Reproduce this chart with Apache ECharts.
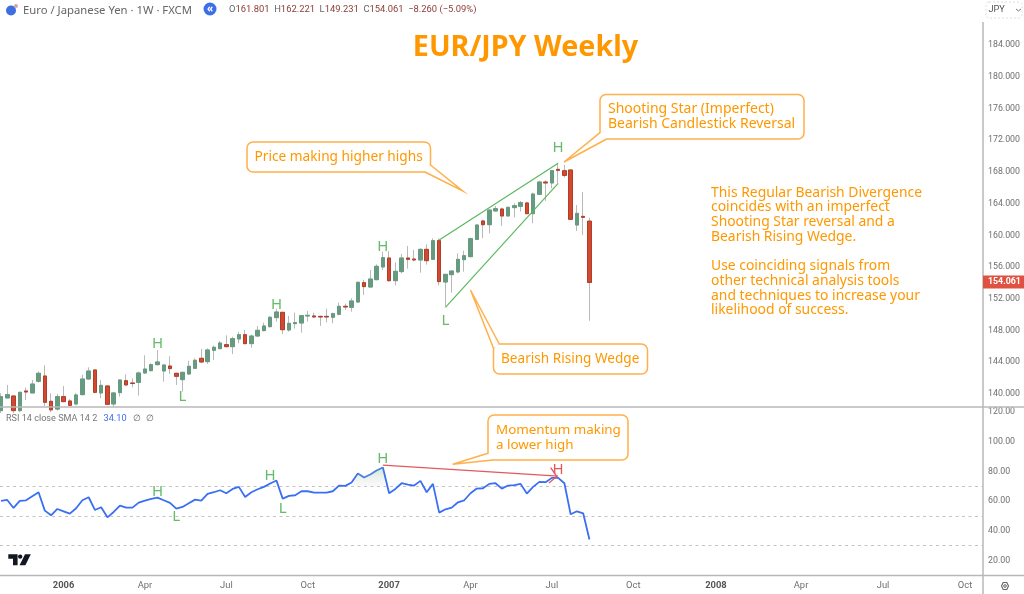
<!DOCTYPE html>
<html><head><meta charset="utf-8">
<style>html,body{margin:0;padding:0;background:#fff}#c{width:1024px;height:594px}</style>
<script src="https://cdn.jsdelivr.net/npm/echarts@6/dist/echarts.min.js"></script>
</head><body><div id="c"></div>
<script>
const opens=[137.9,139.5,139.75,137.9,140.38,140.13,141.6,142.27,139.08,138.1,139.67,139.12,138.74,139.92,141.89,143.03,140.13,141.01,138.74,140.17,141.68,141.39,141.47,142.65,142.94,143.7,142.9,143.53,142.61,141.81,142.52,143.24,144.5,144.08,145.51,145.72,146.22,145.97,146.94,147.48,146.35,147.31,147.99,148.49,149.63,150.3,148.07,148.87,148.95,149.84,149.84,149.79,149.79,149.67,150.05,151.06,150.93,151.6,154.04,153.49,154.42,156.02,157.15,154.29,155.43,157.15,157.02,156.9,158.24,156.98,159.34,154.12,155.05,155.39,156.94,157.32,159.5,161.82,161.35,163.08,163.33,162.45,163.5,163.67,164.09,162.74,165.18,166.73,166.61,168.33,168.16,168.25,161.31,162.4,161.8];
const closes=[139.67,139.92,137.9,140.21,140.25,141.26,142.61,138.95,138.0,139.67,139.04,138.57,139.88,141.89,142.9,140.21,141.09,138.7,140.13,141.77,141.14,141.32,142.65,143.15,143.7,144.04,143.66,143.2,142.23,142.73,143.49,144.25,144.04,145.55,145.89,146.43,145.97,146.98,147.48,146.35,147.31,148.03,148.58,149.67,150.34,148.11,148.91,149.0,149.88,149.92,149.71,149.71,149.71,150.13,151.06,150.97,151.73,154.08,153.54,154.5,156.1,157.19,154.29,155.47,157.15,156.98,156.9,158.24,156.81,159.34,154.17,155.09,155.51,156.98,157.44,159.59,161.31,161.35,163.2,163.37,162.45,163.54,163.75,164.13,162.74,165.22,166.73,166.61,168.16,168.2,167.57,162.03,162.78,162.28,154.06];
const lows=[137.6,139.46,137.6,137.7,139.24,140.09,141.43,138.49,137.7,137.9,138.95,138.49,138.57,139.83,141.77,140.09,139.46,138.61,138.4,139.67,141.05,140.84,139.79,142.57,142.86,143.57,141.56,142.52,141.14,140.3,142.44,143.15,143.87,143.78,144.29,145.63,145.89,145.04,146.39,146.26,145.84,147.23,147.9,148.41,149.12,147.57,147.86,148.24,147.73,149.12,149.63,148.58,149.04,148.91,149.92,150.59,150.38,151.52,152.49,153.41,154.33,155.64,154.17,153.7,155.22,155.81,156.73,155.3,156.31,156.9,153.7,151.01,152.78,155.22,155.43,157.23,159.42,159.67,160.26,163.03,161.19,162.4,162.28,163.0,162.66,161.52,165.09,164.34,165.93,166.57,167.28,161.94,160.56,160.05,149.23];
const highs=[140.09,141.14,139.85,140.3,140.8,141.77,142.86,143.62,140.09,140.0,141.01,139.33,140.09,142.44,143.36,143.11,141.77,141.14,140.21,141.85,142.48,141.98,142.82,144.88,143.87,145.55,143.7,144.75,142.69,142.82,144.2,144.5,145.68,145.76,146.1,146.68,147.4,147.23,147.82,148.07,147.48,148.58,149.0,149.84,150.76,150.34,149.84,150.26,149.96,150.47,150.26,149.88,150.76,150.26,151.52,151.39,152.07,154.17,154.38,155.64,156.35,157.95,158.03,156.6,157.65,158.66,158.16,158.37,158.87,159.63,159.63,155.13,155.55,157.74,158.08,159.71,161.4,161.94,163.29,163.71,163.5,163.62,164.04,164.34,164.25,165.39,166.9,166.94,168.25,169.17,168.88,168.33,163.83,165.47,162.22];
const rsiValues=[60.09,60.77,55.36,60.09,60.54,63.24,65.95,53.56,50.4,54.68,53.11,51.53,55.13,60.54,62.57,54.01,55.81,49.05,52.66,56.94,55.58,55.58,58.96,60.31,61.44,62.34,60.54,58.74,54.91,56.04,58.51,60.99,60.31,64.82,65.95,67.3,65.27,68.2,69.55,62.79,65.95,67.97,69.55,71.8,73.83,61.67,63.47,63.92,66.62,66.62,65.72,65.72,65.72,66.62,70.45,70.22,72.48,78.56,75.86,77.88,80.59,82.61,65.27,68.2,72.03,71.13,70.45,73.6,65.95,71.58,52.2,54.46,55.58,59.19,60.54,65.27,68.42,68.65,71.58,72.03,68.42,70.45,70.68,71.58,65.04,69.55,72.93,72.7,75.63,75.63,72.03,51.08,53.11,51.76,34.1];
const priceTicks=[140,144,148,152,156,160,164,168,172,176,180,184];
const rsiTicks=[20,40,60,80,100,120];
const rsiGuides=[70,50,30];
// x axis runs in weeks counted from the first candle (week of 23 Oct 2005)
const timeTickWeeks=[10,23,36,49,62,75,88,101,114.2,127.8,140.9,154];
const timeTickLabels=['2006','Apr','Jul','Oct','2007','Apr','Jul','Oct','2008','Apr','Jul','Oct'];
const priceNotes=[[25,146.39,'H'],[29,139.66,'L'],[44,151.22,'H'],[61,158.57,'H'],[71,149.21,'L'],[89,171.06,'H']];
const rsiNotes=[[25,66.62,'H'],[28,49.26,'L'],[43,76.96,'H'],[45,54.93,'L'],[61,88.72,'H']];
const rsiRedNote=[89,80.81,'H'];
const upperWedge=[[70,159.42],[89,169.09]];
const lowerWedge=[[71,150.93],[89,166.57]];
const rsiDivergence=[[61,84.2],[89,76.8]];

const xMin=-1/6.26, xMax=982/6.26;
const candleData=opens.map((o,i)=>[i,o,closes[i],lows[i],highs[i]]);
const bodyData=opens.map((o,i)=>[i,o,closes[i],Math.min(o,closes[i]),Math.max(o,closes[i])]);
const rsiData=rsiValues.map((v,i)=>[i,v]);
const ORANGE='#ff9800', STROKE='#ffb04a', GREEN='#66bb6a', RED='#e5575a', AXIS='#b8b8b8', FONT='"Noto Sans",sans-serif';
const note=(n,color)=>({coord:[n[0],n[1]],value:n[2],symbol:'circle',symbolSize:1,itemStyle:{color:'transparent'},
  label:{show:true,position:'inside',formatter:n[2],color:color,fontFamily:FONT,fontSize:15}});
const seg=(s,color,w)=>[{coord:[s[0][0],s[0][1]],lineStyle:{color:color,width:w,type:'solid'}},{coord:[s[1][0],s[1][1]]}];
const txt=(x,y,text,o={})=>({type:'text',z:60,style:Object.assign({x:x,y:y+0.8,text:text,fill:ORANGE,font:`13.9px ${FONT}`,textVerticalAlign:'middle'},o)});
const sized=s=>({font:`${s}px ${FONT}`});
const line=(x1,y1,x2,y2,c=AXIS,w=1.5)=>({type:'line',z:50,shape:{x1,y1,x2,y2},style:{stroke:c,lineWidth:w}});
function callout(x,y,w,h,tail){
  return [
    {type:'rect',z:40,shape:{x,y,width:w,height:h,r:6},style:{fill:'#fff',stroke:STROKE,lineWidth:1.5}},
    {type:'polygon',z:41,shape:{points:tail},style:{fill:'#fff',stroke:null}},
    {type:'polyline',z:42,shape:{points:tail},style:{fill:null,stroke:STROKE,lineWidth:1.5}}
  ];
}
const graphics=[
  line(0,407,1024,407),line(0,575.5,1024,575.5),line(983,22,983,594),
  ...callout(247,142,183.5,30,[[430.5,165],[462.7,191],[425,172]]),
  txt(254.5,156.5,'Price making higher highs',sized(13.7)),
  ...callout(600,94.5,204,44.5,[[600,132.7],[564,162],[606.7,139]]),
  txt(608,108.5,'Shooting Star (Imperfect)',sized(14)),txt(608,123.5,'Bearish Candlestick Reversal',sized(14)),
  ...callout(493.5,344,154,30,[[493.5,348.3],[470.5,290],[499.3,344]]),
  txt(501,358.5,'Bearish Rising Wedge',sized(13.6)),
  ...callout(488,415,140,45,[[488,453.3],[452.7,464.3],[493,460]]),
  txt(496,429.5,'Momentum making',sized(13.4)),txt(496,444.5,'a lower high',sized(13.4)),
  txt(525.5,47.5,'EUR/JPY Weekly',{font:`bold 28.7px ${FONT}`,textAlign:'center'}),
  ...['This Regular Bearish Divergence','coincides with an imperfect','Shooting Star reversal and a','Bearish Rising Wedge.'].map((t,i)=>txt(711,192+i*14.7,t)),
  ...['Use coinciding signals from','other technical analysis tools','and techniques to increase your','likelihood of success.'].map((t,i)=>txt(711,265+i*14.9,t)),
  {type:'polyline',z:55,shape:{points:[[550.7,467.7],[556.7,476.5],[549,483]]},style:{fill:null,stroke:RED,lineWidth:1.3}},
  {type:'polygon',z:5,shape:{points:[[352,486],[358,473],[364,477],[377,470],[383,467],[385,486]]},style:{fill:{type:'linear',x:0,y:0,x2:0,y2:1,colorStops:[{offset:0,color:'rgba(120,190,130,.35)'},{offset:1,color:'rgba(200,200,200,.1)'}]}}},
  {type:'circle',z:60,shape:{cx:11,cy:10.5,r:5},style:{fill:'#3d6fe0'}},
  {type:'circle',z:60,shape:{cx:16,cy:6,r:2},style:{fill:'#e0a0a0'}},
  txt(23,10,'Euro / Japanese Yen · 1W · FXCM',{fill:'#666',font:`11.3px ${FONT}`}),
  {type:'circle',z:60,shape:{cx:210,cy:9,r:6.5},style:{fill:'#3d6fe8'}},
  txt(210,8.2,'«',{fill:'#fff',font:`bold 10px ${FONT}`,textAlign:'center'}),
  {type:'text',z:60,style:{x:229,y:9.5,textVerticalAlign:'middle',font:'9.4px Roboto',fill:'#8a3d35',
    text:'{g|O}161.801  {g|H}162.221  {g|L}149.231  {g|C}154.061  −8.260 (−5.09%)',rich:{g:{fill:'#666',font:'9.4px Roboto'}}}},
  {type:'rect',z:60,shape:{x:986,y:2,width:36,height:16,r:3},style:{fill:'#fff',stroke:'#dcdcdc',lineWidth:1,lineDash:[2,2]}},
  txt(988.5,9.2,'JPY',{fill:'#555',font:'9.2px Roboto'}),
  {type:'polyline',z:60,shape:{points:[[1016,9],[1018.5,11],[1021,9]]},style:{fill:null,stroke:'#777',lineWidth:1}},
  {type:'rect',z:60,shape:{x:983,y:275.5,width:41,height:13},style:{fill:'#df5140'}},
  txt(988,281.5,'154.061',{fill:'#fff',font:'bold 8.8px Roboto'}),
  txt(6,418.2,'RSI 14 close SMA 14 2',{fill:'#777',font:'9.1px Roboto'}),
  txt(103.5,418.2,'34.10',{fill:'#3d6fe8',font:'9.2px Roboto'}),
  txt(133,418.2,'∅  ∅',{fill:'#666',font:'9.2px Roboto'}),
  {type:'polygon',z:60,shape:{points:[[8.3,554.3],[17.6,554.3],[17.6,565.3],[13,565.3],[13,558.8],[8.3,558.8]]},style:{fill:'#131722'}},
  {type:'circle',z:60,shape:{cx:20.2,cy:556.6,r:2.2},style:{fill:'#131722'}},
  {type:'polygon',z:60,shape:{points:[[25,554.3],[30.8,554.3],[25.4,565.3],[19.6,565.3]]},style:{fill:'#131722'}},
  {type:'polygon',z:60,shape:{points:[[1001.5,586],[1003.2,582.5],[1006.8,582.5],[1008.5,586],[1006.8,589.5],[1003.2,589.5]]},style:{fill:'#fff',stroke:'#666',lineWidth:1.1}},
  {type:'circle',z:61,shape:{cx:1005,cy:586,r:1.3},style:{fill:'#fff',stroke:'#666',lineWidth:1}}
];
const chart=echarts.init(document.getElementById('c'),null,{renderer:'canvas'});
const yLabel=(d,pad)=>({color:'#6f6f6f',fontFamily:'Roboto',fontSize:8.8,margin:5,padding:[pad,0,0,0],formatter:v=>(+v).toFixed(d)});
const hiddenAxis={axisLine:{show:false},axisTick:{show:false},splitLine:{show:false}};
chart.setOption({
  animation:false,
  textStyle:{fontFamily:FONT},
  grid:[{left:0,top:22,width:983,height:385},{left:0,top:408,width:983,height:167.5}],
  xAxis:[
    {type:'value',gridIndex:0,min:xMin,max:xMax,show:false},
    Object.assign({type:'value',gridIndex:1,min:xMin,max:xMax,
      axisLabel:{customValues:timeTickWeeks,margin:6,hideOverlap:false,
        color:'#6f6f6f',fontFamily:'Roboto',fontSize:9.4,
        formatter:v=>{const t=timeTickLabels[timeTickWeeks.indexOf(+v)]||'';return /^\d/.test(t)?`{y|${t}}`:t;},
        rich:{y:{fontWeight:'bold',color:'#555',fontFamily:'Roboto',fontSize:9.4}}}},hiddenAxis)
  ],
  yAxis:[
    Object.assign({type:'value',gridIndex:0,position:'right',min:138.36,max:186.91,
      axisLabel:Object.assign(yLabel(3,5),{customValues:priceTicks})},hiddenAxis),
    Object.assign({type:'value',gridIndex:1,position:'right',min:9.86,max:122.7,
      axisLabel:Object.assign(yLabel(2,3),{customValues:rsiTicks})},hiddenAxis)
  ],
  series:[
    {name:'EUR/JPY wicks',type:'candlestick',xAxisIndex:0,yAxisIndex:0,data:candleData,barWidth:4,z:2,
      itemStyle:{color:'#679b81',color0:'#d1492f',borderColor:'#b9b9b9',borderColor0:'#b9b9b9',borderWidth:1},
      markLine:{silent:true,symbol:'none',label:{show:false},z:6,data:[seg(upperWedge,'#5cb85f',1.2),seg(lowerWedge,'#5cb85f',1.2)]},
      markPoint:{silent:true,z:7,data:priceNotes.map(n=>note(n,GREEN))}},
    {name:'EUR/JPY',type:'candlestick',xAxisIndex:0,yAxisIndex:0,data:bodyData,barWidth:4,z:3,
      itemStyle:{color:'#679b81',color0:'#d1492f',borderColor:'#679b81',borderColor0:'#b23d2a',borderWidth:1}},
    {name:'RSI',type:'line',xAxisIndex:1,yAxisIndex:1,data:rsiData,showSymbol:false,symbol:'none',z:4,
      lineStyle:{color:'#3a6ff2',width:1.8},
      markLine:{silent:true,symbol:'none',label:{show:false},z:3,precision:2,
        lineStyle:{color:'#c4c4c4',width:1,type:[3,3.5]},
        data:rsiGuides.map(v=>({yAxis:v})).concat([seg(rsiDivergence,RED,1.3)])},
      markPoint:{silent:true,z:7,data:rsiNotes.map(n=>note(n,GREEN)).concat([note(rsiRedNote,RED)])}}
  ],
  graphic:graphics
});
</script></body></html>
